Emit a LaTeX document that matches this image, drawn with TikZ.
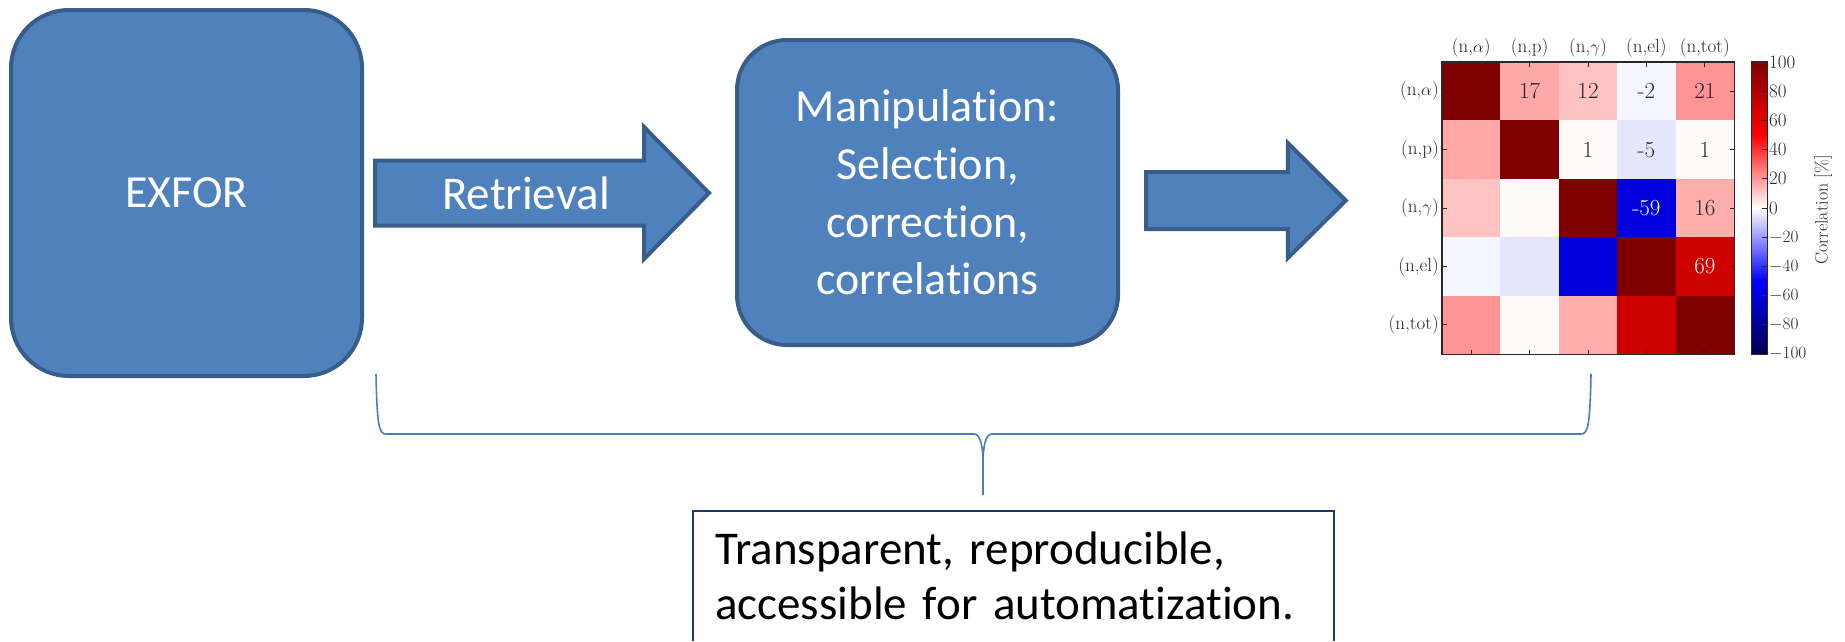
\documentclass[tikz,border=0pt]{standalone}
\usepackage{fontspec}
\newfontfamily\calfont[Ligatures=NoCommon]{Carlito}
\usetikzlibrary{calc}
\definecolor{boxfill}{RGB}{79,129,189}
\definecolor{boxline}{RGB}{56,93,138}
\definecolor{bracecol}{RGB}{74,126,187}
\definecolor{notecol}{RGB}{31,56,110}
\definecolor{c100}{RGB}{128,0,0}
\definecolor{c69}{RGB}{207,0,0}
\definecolor{c21}{RGB}{255,148,148}
\definecolor{c17}{RGB}{255,168,168}
\definecolor{c16}{RGB}{255,173,173}
\definecolor{c12}{RGB}{255,194,194}
\definecolor{c1}{RGB}{255,250,250}
\definecolor{cm2}{RGB}{245,245,255}
\definecolor{cm5}{RGB}{230,230,255}
\definecolor{cm59}{RGB}{0,0,223}
\definecolor{sbot}{RGB}{0,0,77}
\definecolor{sblue}{RGB}{0,0,255}
\definecolor{sred}{RGB}{255,0,0}
\definecolor{labcol}{RGB}{40,40,40}
\tikzset{
  blk/.style={fill=boxfill, draw=boxline, line width=4pt, text=white,
    font=\calfont\fontsize{46}{57.7}\selectfont, inner sep=0pt},
  barrow/.style={fill=boxfill, draw=boxline, line width=4pt, line join=miter},
  lbl/.style={text=labcol, font=\fontsize{19}{21}\selectfont, inner sep=0pt},
  num/.style={text=labcol, font=\fontsize{23}{25}\selectfont, inner sep=0pt},
  tickln/.style={labcol, line width=1pt},
  bracepath/.style={draw=bracecol, line width=1.6pt},
}
\begin{document}
\begin{tikzpicture}[x=1pt,y=-1pt]
\useasboundingbox (0,0) rectangle (1845,641);

% blocks
\node[blk, rounded corners=58pt, minimum width=351pt, minimum height=366pt] (exfor) at (186.5,193) {EXFOR};
\node[blk, rounded corners=50pt, minimum width=381pt, minimum height=305pt, align=center] (manip) at (927.5,192.5)
  {Manipulation:\\Selection,\\correction,\\correlations};

% correlation matrix frame node
\node[minimum width=292pt, minimum height=292pt, inner sep=0pt] (corrmat) at (1588,208) {};

% block arrow 1
\coordinate (a1s) at ($(exfor.east)+(11,0)$);
\coordinate (a1t) at ($(manip.west)+(-26,0.5)$);
\draw[barrow] ($(a1s)+(0,-32.5)$) -- ($(a1t)+(-65,-32.5)$) -- ($(a1t)+(-65,-66)$) -- (a1t)
  -- ($(a1t)+(-65,66)$) -- ($(a1t)+(-65,32.5)$) -- ($(a1s)+(0,32.5)$) -- cycle;
\node[text=white, font=\calfont\fontsize{47}{56}\selectfont, inner sep=0pt] (retr) at (526,193) {Retrieval};

% block arrow 2
\coordinate (a2s) at ($(manip.east)+(26,8)$);
\coordinate (a2t) at ($(corrmat.west)+(-96,-7.5)$);
\draw[barrow] ($(a2s)+(0,-28.5)$) -- ($(a2t)+(-58,-28.5)$) -- ($(a2t)+(-58,-57.5)$) -- (a2t)
  -- ($(a2t)+(-58,57.5)$) -- ($(a2t)+(-58,28.5)$) -- ($(a2s)+(0,28.5)$) -- cycle;

% matrix cells
\foreach \r/\c/\col in {0/0/c100,0/1/c17,0/2/c12,0/3/cm2,0/4/c21,
                        1/0/c17,1/1/c100,1/2/c1,1/3/cm5,1/4/c1,
                        2/0/c12,2/1/c1,2/2/c100,2/3/cm59,2/4/c16,
                        3/0/cm2,3/1/cm5,3/2/cm59,3/3/c100,3/4/c69,
                        4/0/c21,4/1/c1,4/2/c16,4/3/c69,4/4/c100}{
  \fill[\col] (1442+58.4*\c,62+58.4*\r) rectangle ++(58.4,58.4);
}
\foreach \r/\c/\v/\tc in {0/1/17/labcol,0/2/12/labcol,0/3/-2/labcol,0/4/21/labcol,
                          1/2/1/labcol,1/3/-5/labcol,1/4/1/labcol,
                          2/3/-59/white,2/4/16/labcol,3/4/69/white}{
  \node[num, text=\tc] (v\r\c) at (1442+58.4*\c+29.2,62+58.4*\r+29.2) {\v};
}
\draw[labcol, line width=1.4pt] (corrmat.north west) rectangle (corrmat.south east);
% ticks and axis labels
\foreach \i/\t in {0/{(n,$\alpha$)},1/{(n,p)},2/{(n,$\gamma$)},3/{(n,el)},4/{(n,tot)}}{
  \draw[tickln] (1442,62+58.4*\i+29.2) -- ++(4.5,0);
  \draw[tickln] (1734,62+58.4*\i+29.2) -- ++(-4.5,0);
  \draw[tickln] (1442+58.4*\i+29.2,62) -- ++(0,4.5);
  \draw[tickln] (1442+58.4*\i+29.2,354) -- ++(0,-4.5);
  \node[lbl, anchor=east] (row\i) at (1439,62+58.4*\i+29.2) {\t};
  \node[lbl, anchor=base] (col\i) at (1442+58.4*\i+29.2,52) {\t};
}

% colorbar
\node[minimum width=15pt, minimum height=292pt, inner sep=0pt] (cbar) at (1759.5,208) {};
\shade[bottom color=sbot, top color=sblue] (1752,354) rectangle (1767,281);
\shade[bottom color=sblue, top color=white] (1752,281) rectangle (1767,208);
\shade[bottom color=white, top color=sred] (1752,208) rectangle (1767,135);
\shade[bottom color=sred, top color=c100] (1752,135) rectangle (1767,62);
\draw[labcol, line width=1.2pt] (cbar.north west) rectangle (cbar.south east);
\foreach \v/\t in {100/100,80/80,60/60,40/40,20/20,0/0,-20/$-20$,-40/$-40$,-60/$-60$,-80/$-80$,-100/$-100$}{
  \draw[tickln] (1767,208-1.46*\v) -- ++(-5,0);
  \node[lbl, anchor=west] at (1769,208-1.46*\v) {\t};
}
\node[lbl, rotate=90, font=\fontsize{18}{20}\selectfont] (cblabel) at (1823,210) {Correlation [\%]};

% brace
\coordinate (bracetip) at (983,495);
\draw[bracepath] (376,374) .. controls (377,425) and (379,434) .. (386,434) -- (974,434)
  .. controls (980,434) and (983,445) .. (983,463) -- (bracetip);
\draw[bracepath] (983,463) .. controls (983,445) and (986,434) .. (992,434) -- (1581,434)
  .. controls (1588,434) and (1590,425) .. (1591,374);

% note box
\node[anchor=north west, inner xsep=22pt, inner ysep=21pt, text width=597pt, align=left,
  font=\calfont\fontsize{47}{55}\selectfont, text=black] (note) at (693,511)
  {Transparent, reproducible,\\accessible for automatization.};
\draw[notecol, line width=2pt] (note.north west |- 0,641) -- (note.north west) -- (note.north east) -- (note.north east |- 0,641);
\end{tikzpicture}
\end{document}
